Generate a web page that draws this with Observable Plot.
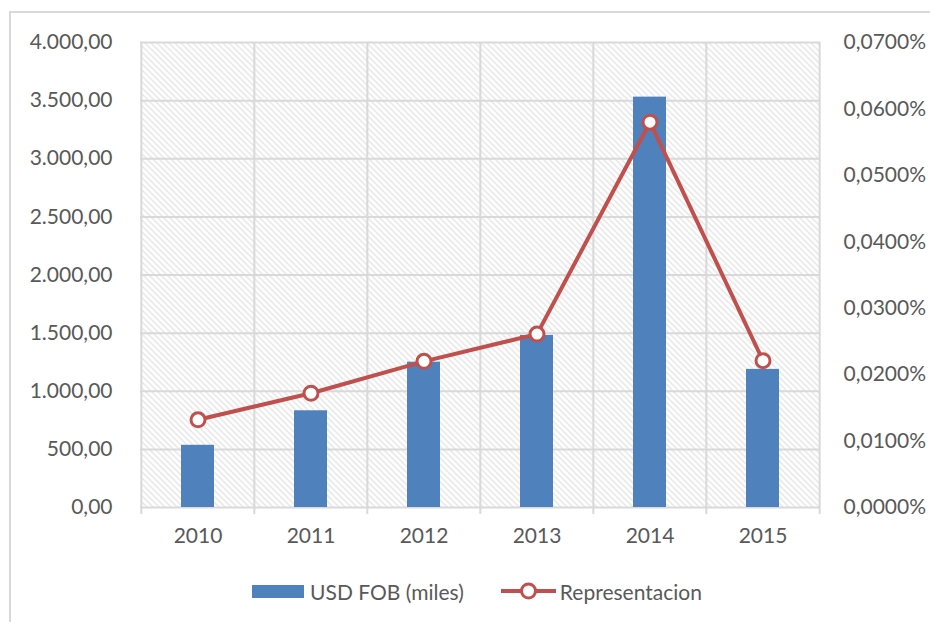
<!DOCTYPE html>
<html>
<head>
<meta charset="utf-8">
<script src="https://cdn.jsdelivr.net/npm/d3@7"></script>
<script src="https://cdn.jsdelivr.net/npm/@observablehq/plot@0.6"></script>
<style>
  html, body { margin: 0; padding: 0; background: #fff; }
  body { width: 930px; height: 622px; overflow: hidden; position: relative; font-family: Lato, "Open Sans", sans-serif; }
  #frame { position: absolute; left: 9px; top: 11px; width: 1000px; height: 1000px; border: 2px solid #d9d9d9; box-sizing: border-box; pointer-events: none; }
  #legend { position: absolute; left: 0; top: 560px; width: 930px; height: 62px; display: flex; align-items: center; justify-content: center; padding-left: 24px; box-sizing: border-box; font-size: 21px; color: #595959; }
  .item { display: flex; align-items: center; }
  .sw-bar { width: 52px; height: 13px; background: #4F81BD; margin-right: 6px; }
  .sw-line { width: 55px; height: 18px; margin-right: 4px; margin-left: 37px; }
</style>
</head>
<body>
<div id="chart"></div>
<div id="frame"></div>
<div id="legend">
  <div class="item"><div class="sw-bar"></div><span>USD FOB (miles)</span></div>
  <div class="item"><svg class="sw-line" viewBox="0 0 55 18"><line x1="0" y1="9" x2="55" y2="9" stroke="#C0504D" stroke-width="4"/><circle cx="27.5" cy="9" r="7" fill="#fff" stroke="#C0504D" stroke-width="3"/></svg><span>Representacion</span></div>
</div>
<script>
const years = ["2010", "2011", "2012", "2013", "2014", "2015"];
const usdFob = [535, 832, 1250, 1480, 3530, 1188];
const representacion = [0.000132, 0.000172, 0.000220, 0.000261, 0.000580, 0.000221];
const leftTicks = [0, 500, 1000, 1500, 2000, 2500, 3000, 3500, 4000];
const rightTicks = [0, 0.0001, 0.0002, 0.0003, 0.0004, 0.0005, 0.0006, 0.0007];

const leftMax = 4000, rightMax = 0.0007;
const k = leftMax / rightMax;

const data = years.map((y, i) => ({year: y, usd: usdFob[i], rep: representacion[i]}));

const W = 930, H = 560, ML = 140, MR = 110, MT = 42, MB = 53;
const step = (W - ML - MR) / years.length;

const fmtLeft = v => {
  const s = v.toFixed(2).split(".");
  return s[0].replace(/\B(?=(\d{3})+(?!\d))/g, ".") + "," + s[1];
};
const fmtRight = v => (v * 100).toFixed(4).replace(".", ",") + "%";

const grid = "#d9d9d9";
const text = "#595959";

const chart = Plot.plot({
  width: W, height: H,
  marginLeft: ML, marginRight: MR, marginTop: MT, marginBottom: MB,
  style: {fontFamily: "Lato, 'Open Sans', sans-serif", fontSize: "21px", color: text, background: "transparent"},
  x: {domain: years, paddingInner: 0.71, paddingOuter: 0.355, label: null},
  y: {domain: [0, leftMax], label: null},
  marks: [
    Plot.frame({fill: "url(#hatch)", stroke: null}),
    Plot.ruleY(leftTicks, {stroke: grid, strokeWidth: 2}),
    Plot.ruleX(years, {stroke: grid, strokeWidth: 2, dx: -step / 2, insetBottom: -7}),
    Plot.ruleX([years[years.length - 1]], {stroke: grid, strokeWidth: 2, dx: step / 2, insetBottom: -7}),
    Plot.axisY({ticks: leftTicks, tickSize: 0, tickPadding: 28, tickFormat: fmtLeft, anchor: "left", label: null}),
    Plot.axisY({ticks: rightTicks.map(t => t * k), tickSize: 0, tickPadding: 23, tickFormat: v => fmtRight(v / k), anchor: "right", label: null}),
    Plot.axisX({tickSize: 0, tickPadding: 21, label: null}),
    Plot.barY(data, {x: "year", y: "usd", fill: "#4F81BD"}),
    Plot.line(data, {x: "year", y: d => d.rep * k, stroke: "#C0504D", strokeWidth: 4}),
    Plot.dot(data, {x: "year", y: d => d.rep * k, r: 7, fill: "#fff", stroke: "#C0504D", strokeWidth: 3})
  ]
});

const svg = d3.select(chart);
const defs = svg.insert("defs", ":first-child");
const pat = defs.append("pattern")
  .attr("id", "hatch").attr("patternUnits", "userSpaceOnUse")
  .attr("width", 6).attr("height", 6);
pat.append("rect").attr("width", 6).attr("height", 6).attr("fill", "#fff");
pat.append("path").attr("d", "M-1,-1 L7,7 M-4,2 L2,8 M4,-2 L8,2")
  .attr("stroke", "#dcdcdc").attr("stroke-width", 1.1);
svg.selectAll("text").attr("fill", text);

document.getElementById("chart").appendChild(chart);
</script>
</body>
</html>
